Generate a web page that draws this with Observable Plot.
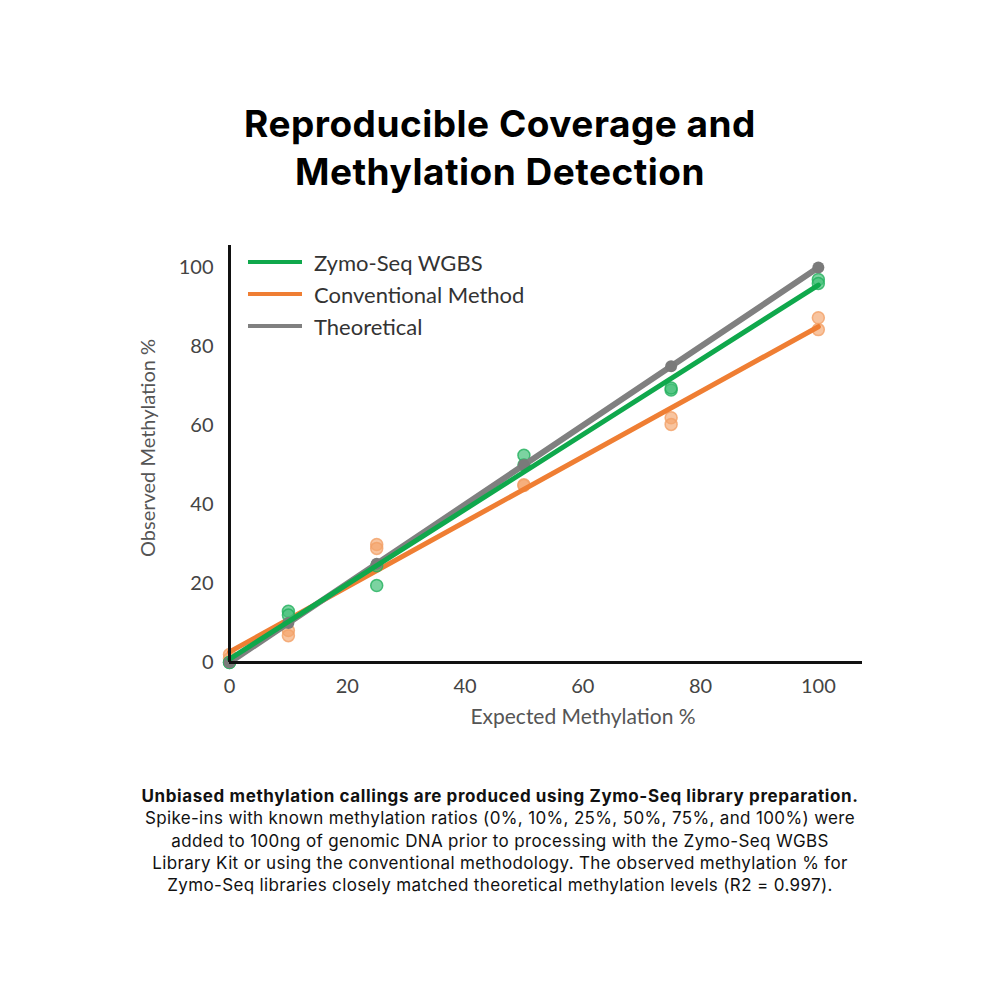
<!DOCTYPE html>
<html>
<head>
<meta charset="utf-8">
<script src="https://cdn.jsdelivr.net/npm/d3@7"></script>
<script src="https://cdn.jsdelivr.net/npm/@observablehq/plot@0.6"></script>
<style>
  html, body { margin: 0; padding: 0; background: #fff; }
  #page { position: relative; width: 1000px; height: 1000px; overflow: hidden; background: #fff; }
  #title { position: absolute; top: 100px; left: 0; width: 1000px; text-align: center;
    font-family: Inter, "Open Sans", sans-serif; font-weight: 700; font-size: 37px; letter-spacing: 0.5px; line-height: 48px; color: #000; }
  #chart { position: absolute; top: 220px; left: 0; }
  #legend { position: absolute; left: 248px; top: 246px; font-family: Lato, "Open Sans", sans-serif; font-size: 22px; color: #333; }
  .lg { display: flex; align-items: center; height: 32px; }
  .sw { width: 54px; height: 4px; margin-right: 12px; }
  #caption { position: absolute; top: 785px; left: 0; width: 1000px; text-align: center;
    font-family: Inter, "Open Sans", sans-serif; font-size: 17px; letter-spacing: 0.35px; line-height: 22.3px; color: #111; }
  #caption b { font-weight: 700; letter-spacing: 0.6px; }
</style>
</head>
<body>
<div id="page">
  <div id="title">Reproducible Coverage and<br>Methylation Detection</div>
  <div id="chart"></div>
  <div id="legend"></div>
  <div id="caption"></div>
</div>
<script>
// Data
const expected = [0, 10, 25, 50, 75, 100];
const zymoRep1 = [0, 13, 19.5, 52.5, 69, 97];
const zymoRep2 = [0, 12, 24.5, 50, 69.5, 96];
const convRep1 = [2, 8.1, 29.9, 44.8, 62, 87.3];
const convRep2 = [1, 6.8, 28.9, 45, 60.3, 84.3];
const theoretical = [0, 10, 25, 50, 75, 100];
const xTicks = [0, 20, 40, 60, 80, 100];
const yTicks = [0, 20, 40, 60, 80, 100];
const seriesNames = ["Zymo-Seq WGBS", "Conventional Method", "Theoretical"];
const seriesColors = ["#0fa84c", "#ef7e33", "#808080"];
const xLabel = "Expected Methylation %";
const yLabel = "Observed Methylation %";
const captionLines = [
  "Unbiased methylation callings are produced using Zymo-Seq library preparation.",
  "Spike-ins with known methylation ratios (0%, 10%, 25%, 50%, 75%, and 100%) were",
  "added to 100ng of genomic DNA prior to processing with the Zymo-Seq WGBS",
  "Library Kit or using the conventional methodology. The observed methylation % for",
  "Zymo-Seq libraries closely matched theoretical methylation levels (R2 = 0.997)."
];

const zymo = expected.flatMap((x, i) => [{x, y: zymoRep1[i]}, {x, y: zymoRep2[i]}]);
const conv = expected.flatMap((x, i) => [{x, y: convRep1[i]}, {x, y: convRep2[i]}]);
const theo = expected.map((x, i) => ({x, y: theoretical[i]}));

const chart = Plot.plot({
  width: 1000,
  height: 530,
  marginLeft: 229,
  marginRight: 138,
  marginTop: 25,
  marginBottom: 88,
  style: {fontFamily: "Lato, 'Open Sans', sans-serif", background: "transparent"},
  x: {domain: [0, 107.5]},
  y: {domain: [0, 105.6]},
  marks: [
    Plot.axisX({ticks: xTicks, tickSize: 0, tickPadding: 16, fontSize: 20, color: "#444", label: null}),
    Plot.axisY({ticks: yTicks, tickSize: 0, tickPadding: 16, fontSize: 20, color: "#444", label: null}),
    Plot.text([xLabel], {frameAnchor: "bottom", dx: 37, dy: 61, fontSize: 21, fill: "#555"}),
    Plot.text([yLabel], {frameAnchor: "left", textAnchor: "middle", rotate: -90, dx: -81, dy: -6, fontSize: 20, fill: "#555"}),
    Plot.dot(conv, {x: "x", y: "y", r: 6, fill: "#f5a46c", fillOpacity: 0.65, stroke: "#f3a067", strokeOpacity: 0.8}),
    Plot.linearRegressionY(conv, {x: "x", y: "y", ci: 0, stroke: seriesColors[1], strokeWidth: 5}),
    Plot.dot(zymo, {x: "x", y: "y", r: 6, fill: "#45c079", fillOpacity: 0.7, stroke: "#22b05c", strokeOpacity: 0.8}),
    Plot.line(theo, {x: "x", y: "y", stroke: seriesColors[2], strokeWidth: 6}),
    Plot.dot(theo, {x: "x", y: "y", r: 6, fill: "#7a7a7a"}),
    Plot.linearRegressionY(zymo, {x: "x", y: "y", ci: 0, stroke: seriesColors[0], strokeWidth: 5}),
    Plot.ruleX([0], {stroke: "#111", strokeWidth: 3}),
    Plot.ruleY([0], {stroke: "#111", strokeWidth: 3})
  ]
});
document.getElementById("chart").appendChild(chart);

const legend = document.getElementById("legend");
seriesNames.forEach((name, i) => {
  const row = document.createElement("div");
  row.className = "lg";
  const sw = document.createElement("div");
  sw.className = "sw";
  sw.style.background = seriesColors[i];
  const t = document.createElement("span");
  t.textContent = name;
  row.appendChild(sw);
  row.appendChild(t);
  legend.appendChild(row);
});

const cap = document.getElementById("caption");
captionLines.forEach((line, i) => {
  const d = document.createElement("div");
  if (i === 0) { const b = document.createElement("b"); b.textContent = line; d.appendChild(b); }
  else d.textContent = line;
  cap.appendChild(d);
});
</script>
</body>
</html>
